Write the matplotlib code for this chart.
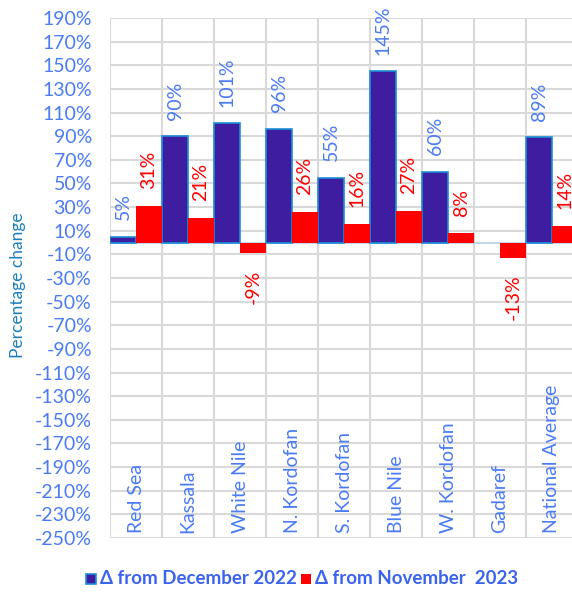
import numpy as np
import matplotlib
matplotlib.use("Agg")
import matplotlib.pyplot as plt
import matplotlib.transforms as mtransforms

plt.rcParams['font.family'] = ['Lato', 'DejaVu Sans']

# data
regions = ["Red Sea", "Kassala", "White Nile", "N. Kordofan", "S. Kordofan",
           "Blue Nile", "W. Kordofan", "Gadaref", "National Average"]
from_dec_2022 = [5, 90, 101, 96, 55, 145, 60, np.nan, 89]
from_nov_2023 = [31, 21, -9, 26, 16, 27, 8, -13, 14]
series_names = ["\u0394 from December 2022", "\u0394 from November  2023"]
y_ticks = list(range(-250, 191, 20))

BLUE = "#3F1DA0"
BLUE_EDGE = "#1C8ED6"
RED = "#FF0000"
TXT_BLUE = "#4A7BF5"
FS = 14

fig = plt.figure(figsize=(5.72, 5.92), dpi=100)
ax = fig.add_axes([110 / 572, 1 - 538 / 592, 468 / 572, 520 / 592])

x = np.arange(len(regions))
w = 0.5
b1 = ax.bar(x - w / 2, from_dec_2022, width=w, color=BLUE, edgecolor=BLUE_EDGE,
            linewidth=1.2, label=series_names[0], zorder=3)
b2 = ax.bar(x + w / 2, from_nov_2023, width=w, color=RED, edgecolor=RED,
            linewidth=0, label=series_names[1], zorder=3)

ax.set_xlim(-0.5, len(regions) - 0.5)
ax.set_ylim(-250, 190)
ax.set_yticks(y_ticks)
ax.set_yticklabels([f"{t}%" for t in y_ticks], color=TXT_BLUE, fontsize=FS)
ax.tick_params(axis='y', length=0, pad=13)

# vertical grid at category boundaries
ax.set_xticks(np.arange(len(regions) + 1) - 0.5)
ax.set_xticklabels([])
ax.tick_params(axis='x', length=0)
ax.grid(True, color="#D9D9D9", linewidth=1.5, zorder=0)
for s in ax.spines.values():
    s.set_visible(False)
ax.axhline(0, color="#B8CFE3", linewidth=1.2, zorder=2)

# value labels
def add_labels(xs, vals, color):
    for xi, v in zip(xs, vals):
        if np.isnan(v):
            continue
        off = 12 if v >= 0 else -12
        ax.annotate(f"{v:.0f}%", (xi, v), xytext=(0, off), textcoords="offset points",
                    rotation=90, ha="center", va="bottom" if v >= 0 else "top",
                    color=color, fontsize=FS, clip_on=False, annotation_clip=False)

add_labels(x - w / 2, from_dec_2022, TXT_BLUE)
add_labels(x + w / 2, from_nov_2023, RED)

# category labels inside the plot, near the bottom
trans = mtransforms.blended_transform_factory(ax.transData, ax.transData)
for xi, name in zip(x, regions):
    ax.text(xi, -246, name, rotation=90, ha="center", va="bottom",
            color=TXT_BLUE, fontsize=FS, transform=trans)

fig.text(18 / 572, 1 - 285 / 592, "Percentage change", rotation=90, ha="center",
         va="center", color="#1A7FC0", fontsize=12.5)

leg = fig.legend(handles=[b1, b2], loc="center", bbox_to_anchor=(302 / 572, 1 - 578 / 592),
                 ncol=2, frameon=False, handlelength=0.75, handleheight=0.75,
                 handletextpad=0.25, columnspacing=0.3, borderaxespad=0)
for t in leg.get_texts():
    t.set_color("#3A63F0")
    t.set_fontweight("bold")
    t.set_fontsize(13.5)

fig.savefig("out.png", dpi=100)
